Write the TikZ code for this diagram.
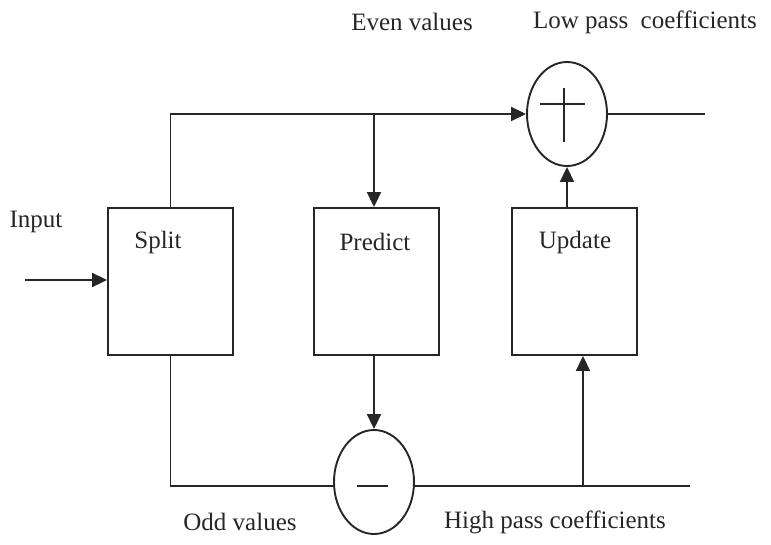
\documentclass[tikz,border=0pt]{standalone}
\usepackage{fontspec}
\setmainfont{Liberation Serif}
\usetikzlibrary{shapes.geometric,arrows.meta}
\begin{document}
\begin{tikzpicture}[x=1pt,y=-1pt,
  line width=1.9pt, draw=black!85,
  blk/.style={draw, minimum width=125pt, minimum height=147pt, inner sep=0pt},
  sumnode/.style={draw, ellipse, minimum width=80pt, minimum height=104pt, inner sep=0pt},
  lbl/.style={font=\fontsize{25}{29}\selectfont, inner sep=0pt, text=black!85},
  arr/.style={-{Triangle[length=15pt,width=14pt]}}
]
\useasboundingbox (0,0) rectangle (771,544);
% blocks
\node[blk] (split) at (170.5,281.5) {};
\node[blk] (predict) at (376.5,281.5) {};
\node[blk] (update) at (574.5,281.5) {};
\node[lbl] (splitt) at (158,242) {Split};
\node[lbl] (predictt) at (375,242) {Predict};
\node[lbl] (updatet) at (575,242) {Update};
% summing nodes
\node[sumnode] (plus) at (567,114) {};
\node[sumnode] (minus) at (374,482) {};
\draw (540,104) -- (585,104) (564,88) -- (564,142);
\draw (357,486) -- (388,486);
% coordinates
\coordinate (in) at (25,280);
\coordinate (lpend) at (705,114);
\coordinate (hp) at (583,486);
\coordinate (hpend) at (690,486);
% connectors
\draw[arr] (in) -- (in -| split.west);
\draw[arr] (split.north) |- (plus.west);
\draw[arr] (minus.north |- plus.west) -- (minus.north |- predict.north);
\draw[arr] (minus.north |- predict.south) -- (minus.north);
\draw (split.south) |- (hp -| minus.west);
\draw (hp -| minus.east) -- (hpend);
\draw[arr] (hp) -- (hp |- update.south);
\draw[arr] (plus.south |- update.north) -- (plus.south);
\draw (plus.east) -- (lpend);
% labels
\node[lbl] (inputl) at (36,222) {Input};
\node[lbl] (evenl) at (412,22) {Even values};
\node[lbl] (lowl) at (645,22) {Low pass\ \ coefficients};
\node[lbl] (oddl) at (240,522) {Odd values};
\node[lbl] (highl) at (555,522) {High pass coefficients};
\end{tikzpicture}
\end{document}
